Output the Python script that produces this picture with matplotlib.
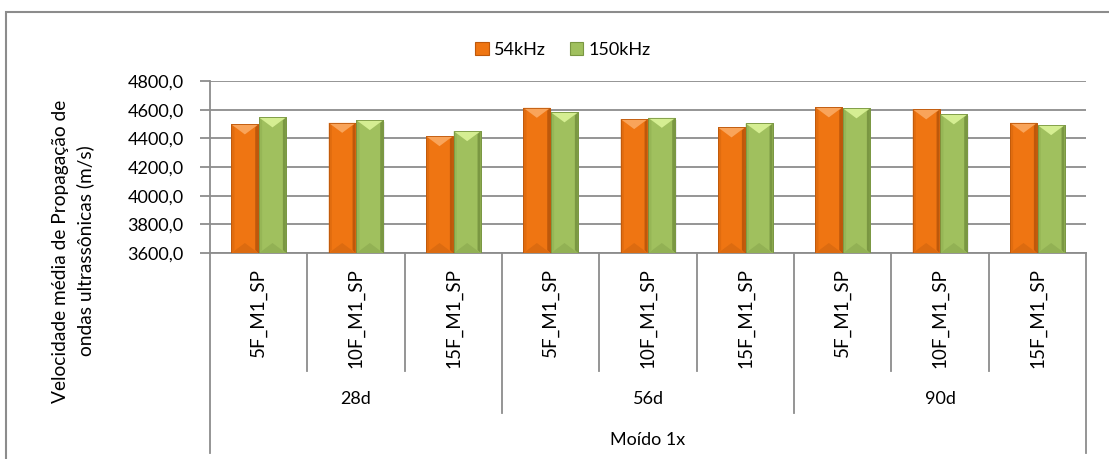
import numpy as np
import matplotlib
matplotlib.use("Agg")
import matplotlib.pyplot as plt
from matplotlib.patches import Polygon, Rectangle, Patch
from matplotlib.lines import Line2D
from matplotlib.transforms import blended_transform_factory

# Ultrasonic pulse velocity, grouped by curing age
groups = ["28d", "56d", "90d"]
samples = ["5F_M1_SP", "10F_M1_SP", "15F_M1_SP"]
outer_label = "Moído 1x"
series_names = ["54kHz", "150kHz"]
v_54khz = [4497, 4508, 4415, 4613, 4534, 4476, 4616, 4602, 4508]
v_150khz = [4546, 4527, 4450, 4581, 4543, 4504, 4609, 4567, 4492]
y_ticks = [3600, 3800, 4000, 4200, 4400, 4600, 4800]

plt.rcParams["font.family"] = ["Lato", "DejaVu Sans"]
FS = 13
GRID = "#8C8C8C"

# orange / green palettes: face, top highlight, left edge, right edge, bottom
PAL = {
    "54kHz": ("#EF7512", "#F9A45A", "#E06C0F", "#BE580B", "#DC6B10"),
    "150kHz": ("#A0C05E", "#D5EE92", "#96B656", "#7A9742", "#92B154"),
}

W, H = 1109, 459
fig = plt.figure(figsize=(W / 100, H / 100), dpi=100)
ax_l, ax_r, ax_t, ax_b = 210, 1086, 81, 253
ax = fig.add_axes([ax_l / W, 1 - ax_b / H, (ax_r - ax_l) / W, (ax_b - ax_t) / H])

n = len(v_54khz)
ymin, ymax = y_ticks[0], y_ticks[-1]
ax.set_xlim(0, n)
ax.set_ylim(ymin, ymax)

# pixel -> data scale factors
px_x = n / (ax_r - ax_l)
px_y = (ymax - ymin) / (ax_b - ax_t)

bw = 0.275
off = 0.142
centers = np.arange(n) + 0.5


def bevel_bars(xs, vals, name):
    face, top, left, right, bottom = PAL[name]
    heights = np.array(vals) - ymin
    bars = ax.bar(xs, heights, bw, bottom=ymin, color=face,
                  edgecolor=right, linewidth=0.6, zorder=3)
    for p in bars:
        x0, y0 = p.get_x(), p.get_y()
        x1, y1 = x0 + p.get_width(), y0 + p.get_height()
        xc = (x0 + x1) / 2
        tri = 10 * px_y
        # soft shadow behind the bar
        ax.add_patch(Rectangle((x0 + 1.5 * px_x, y0), x1 - x0, y1 - y0 - 2 * px_y,
                               color="#000000", alpha=0.07, lw=0, zorder=2))
        ax.add_patch(Polygon([(x0, y0), (x0 + 3 * px_x, y0 + 3 * px_y),
                              (x0 + 3 * px_x, y1 - 3 * px_y), (x0, y1)],
                             closed=True, color=left, lw=0, zorder=4))
        ax.add_patch(Polygon([(x1, y0), (x1 - 3 * px_x, y0 + 3 * px_y),
                              (x1 - 3 * px_x, y1 - 3 * px_y), (x1, y1)],
                             closed=True, color=right, lw=0, zorder=4))
        ax.add_patch(Polygon([(x0, y1), (x1, y1), (xc, y1 - tri)],
                             closed=True, color=top, lw=0, zorder=5))
        ax.add_patch(Polygon([(x0, y0), (x1, y0), (xc, y0 + tri)],
                             closed=True, color=bottom, lw=0, zorder=5))
        ax.add_patch(Rectangle((x0, y0), x1 - x0, y1 - y0, fill=False,
                               edgecolor=right, lw=0.6, zorder=6))


bevel_bars(centers - off, v_54khz, series_names[0])
bevel_bars(centers + off, v_150khz, series_names[1])

# axes styling
ax.set_yticks(y_ticks)
ax.set_yticklabels([f"{v:.1f}".replace(".", ",") for v in y_ticks], fontsize=FS)
ax.yaxis.grid(True, color=GRID, lw=1.3, zorder=1)
ax.set_axisbelow(True)
ax.set_xticks([])
for s in ["top", "right"]:
    ax.spines[s].set_visible(False)
for s in ["left", "bottom"]:
    ax.spines[s].set_color(GRID)
    ax.spines[s].set_linewidth(1.3)
ax.tick_params(axis="y", length=7, width=1.3, color=GRID, pad=12)

# multi-level category axis below the plot
tr = blended_transform_factory(ax.transData, ax.transAxes)


def yfrac(ypx):
    return (ax_b - ypx) / (ax_b - ax_t)


for i in range(n + 1):
    if i in (0, n):
        yend = 453
    elif i % len(samples) == 0:
        yend = 413
    else:
        yend = 371
    ax.add_line(Line2D([i, i], [0, yfrac(yend)], transform=tr, color=GRID,
                       lw=1.3, clip_on=False))

for i in range(n):
    ax.text(i + 0.5, yfrac(268), samples[i % len(samples)], transform=tr,
            rotation=90, ha="center", va="top", fontsize=FS + 0.5)

for g, name in enumerate(groups):
    ax.text(g * len(samples) + len(samples) / 2, yfrac(399), name, transform=tr,
            ha="center", va="center", fontsize=FS)

ax.text(n / 2, yfrac(440), outer_label, transform=tr, ha="center", va="center",
        fontsize=FS)

# y-axis title
fig.text(73 / W, 1 - 251 / H,
         "Velocidade média de Propagação de\nondas ultrassônicas (m/s)",
         rotation=90, ha="center", va="center", fontsize=FS + 0.8,
         multialignment="center", linespacing=1.45)

# legend
handles = [Patch(facecolor=PAL[s][0], edgecolor=PAL[s][3], lw=0.8)
           for s in series_names]
fig.legend(handles, series_names, loc="center", bbox_to_anchor=(563 / W, 1 - 50 / H),
           ncol=2, frameon=False, fontsize=FS, handlelength=0.75, handleheight=0.75,
           handletextpad=0.3, columnspacing=1.3)

# chart border
fig.add_artist(Rectangle((6 / W, -0.1), 2, 1.1 - 12 / H, transform=fig.transFigure,
                         fill=False, edgecolor=GRID, lw=1.5))

fig.savefig("out.png", dpi=100)
